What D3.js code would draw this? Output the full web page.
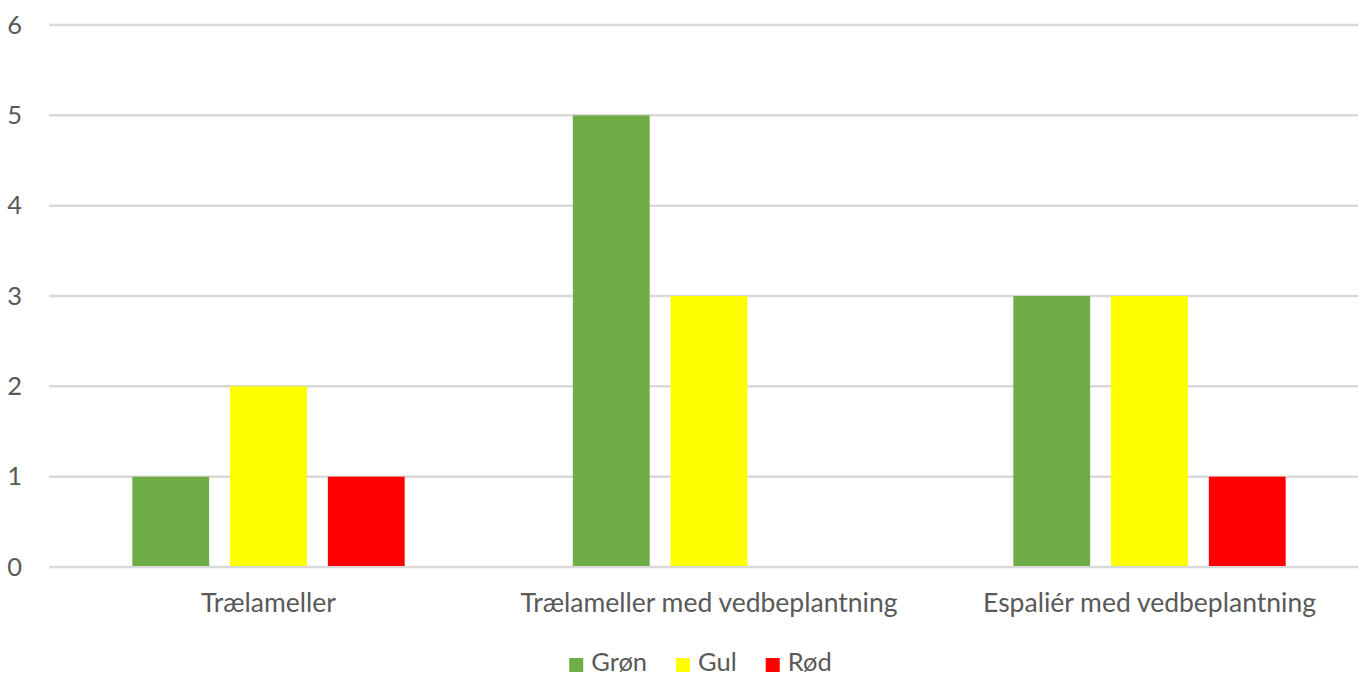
<!DOCTYPE html>
<html>
<head>
<meta charset="utf-8">
<script src="https://cdn.jsdelivr.net/npm/d3@7"></script>
<style>
  html, body { margin: 0; padding: 0; background: #fff; }
  svg { display: block; }
  text { font-family: Lato, "Open Sans", sans-serif; fill: #595959; }
</style>
</head>
<body>
<svg id="chart" width="1358" height="677"></svg>
<script>
const categories = ["Trælameller", "Trælameller med vedbeplantning", "Espaliér med vedbeplantning"];
const seriesNames = ["Grøn", "Gul", "Rød"];
const seriesColors = ["#70AD47", "#FFFF00", "#FF0000"];
const valuesGron = [1, 5, 3];
const valuesGul = [2, 3, 3];
const valuesRod = [1, 0, 1];
const yTicks = [0, 1, 2, 3, 4, 5, 6];

(function () {
const seriesValues = [valuesGron, valuesGul, valuesRod];
const data = categories.map((c, i) => ({
  category: c,
  values: seriesNames.map((s, j) => ({ series: s, value: seriesValues[j][i], color: seriesColors[j] }))
}));

const svg = d3.select("#chart");
const gridLeft = 49, gridRight = 1358, pTop = 25, pBottom = 567;
const bandLeft = 48.25, bandRight = 1369.75;
const fontFam = 'Lato, "Open Sans", sans-serif';

const x0 = d3.scaleBand().domain(categories).range([bandLeft, bandRight]).paddingInner(0).paddingOuter(0);
const x1 = d3.scaleBand().domain(seriesNames).range([0, x0.bandwidth()]).paddingInner(0.214).paddingOuter(0.86);
const y = d3.scaleLinear().domain([0, 6]).range([pBottom, pTop]);

// gridlines
svg.append("g").selectAll("line").data(yTicks).join("line")
  .attr("x1", gridLeft).attr("x2", gridRight)
  .attr("y1", d => y(d)).attr("y2", d => y(d))
  .attr("stroke", "#d9d9d9").attr("stroke-width", 2.5);

// y axis labels
const yAxis = d3.axisLeft(y).tickValues(yTicks).tickSize(0).tickPadding(0).tickFormat(d3.format("d"));
const yg = svg.append("g").attr("transform", "translate(22,0)").call(yAxis);
yg.select(".domain").remove();
yg.selectAll("text").style("font-size", "25.5px").attr("fill", "#595959")
  .style("font-family", fontFam);

// bars
const groups = svg.append("g").selectAll("g").data(data).join("g")
  .attr("transform", d => `translate(${x0(d.category)},0)`);
groups.selectAll("rect").data(d => d.values.filter(v => v.value > 0)).join("rect")
  .attr("x", d => x1(d.series))
  .attr("width", x1.bandwidth())
  .attr("y", d => y(d.value))
  .attr("height", d => y(0) - y(d.value) - 1)
  .attr("fill", d => d.color);

// x axis labels
const xAxis = d3.axisBottom(x0).tickSize(0).tickPadding(0);
const xg = svg.append("g").attr("transform", `translate(0,612)`).call(xAxis);
xg.select(".domain").remove();
xg.selectAll("text").attr("dy", null).attr("y", 0)
  .style("font-size", "26.5px").attr("fill", "#595959")
  .style("font-family", fontFam);

// legend
const legend = svg.append("g");
const items = legend.selectAll("g").data(seriesNames).join("g");
items.append("rect").attr("width", 14).attr("height", 14).attr("y", 658)
  .attr("fill", (d, i) => seriesColors[i]);
items.append("text").text(d => d).attr("x", 22).attr("y", 671)
  .style("font-size", "25.5px").style("font-family", fontFam);
const widths = [];
items.each(function () {
  const w = d3.select(this).select("text").node().getComputedTextLength();
  widths.push(22 + w);
});
const gap = 29;
const total = d3.sum(widths) + gap * (widths.length - 1);
let start = 700.5 - total / 2;
const offsets = widths.map(w => { const s = start; start += w + gap; return s; });
items.attr("transform", (d, i) => `translate(${offsets[i]},0)`);
})();
</script>
</body>
</html>
